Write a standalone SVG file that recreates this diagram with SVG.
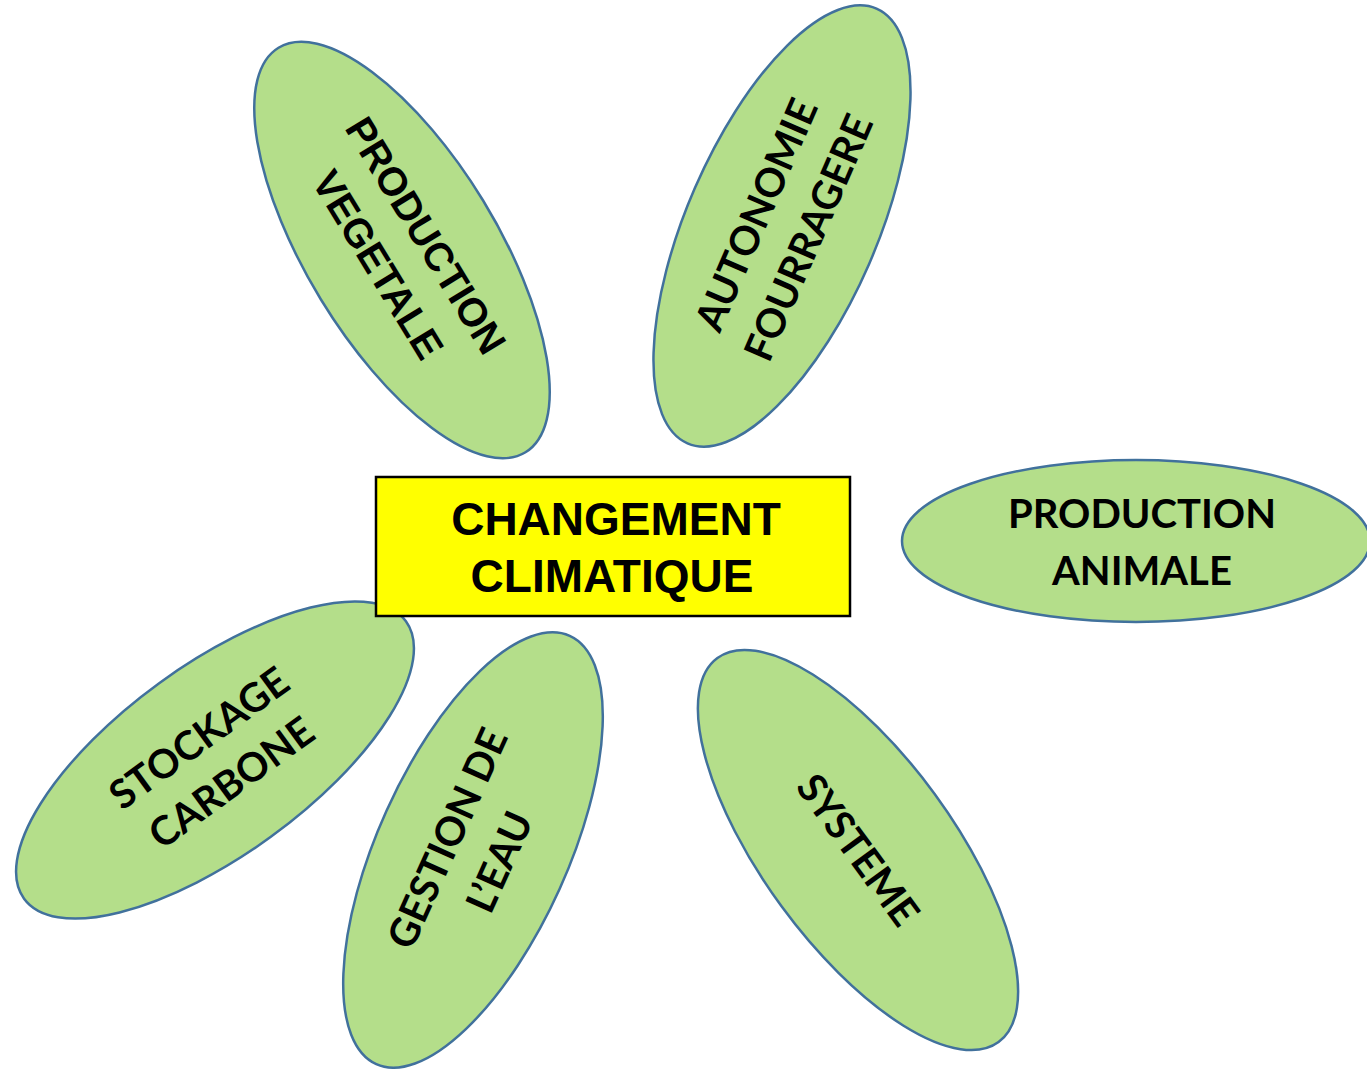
<svg xmlns="http://www.w3.org/2000/svg" width="1367" height="1069" viewBox="0 0 1367 1069">
<style>
.leaf{fill:#B4DE8A;stroke:#41719C;stroke-width:2.5}
.core{fill:#FFFF00;stroke:#000000;stroke-width:2.5}
.ta{font-family:"Liberation Sans",Arial,sans-serif;font-weight:bold;font-size:40px;fill:#000;text-anchor:middle}
.tc{font-family:Lato,"Open Sans",sans-serif;font-weight:bold;font-size:40px;fill:#000;text-anchor:middle}
.tm{font-family:"Liberation Sans",Arial,sans-serif;font-weight:bold;font-size:46px;fill:#000;text-anchor:middle}
</style>
<rect width="1367" height="1069" fill="#ffffff"/>
<g id="connectors"></g>
<g id="production-vegetale" transform="translate(402,250) rotate(58.6)">
<ellipse class="leaf" cx="0" cy="0" rx="237" ry="95"/>
<text class="ta" x="0" y="-14">PRODUCTION</text>
<text class="ta" x="0" y="42">VEGETALE</text>
</g>
<g id="autonomie-fourragere" transform="translate(782,226) rotate(-66.5)">
<ellipse class="leaf" cx="0" cy="0" rx="237" ry="95"/>
<text class="tc" x="0" y="-14">AUTONOMIE</text>
<text class="tc" x="0" y="43">FOURRAGERE</text>
</g>
<g id="production-animale">
<ellipse class="leaf" cx="1136" cy="541" rx="234" ry="81"/>
<text class="tc" x="1142" y="528">PRODUCTION</text>
<text class="tc" x="1142" y="585">ANIMALE</text>
</g>
<g id="stockage-carbone" transform="translate(215,760) rotate(-36)">
<ellipse class="leaf" cx="0" cy="0" rx="236" ry="95"/>
<text class="tc" x="0" y="-13">STOCKAGE</text>
<text class="tc" x="0" y="42">CARBONE</text>
</g>
<g id="gestion-eau" transform="translate(473,850) rotate(-65.7)">
<ellipse class="leaf" cx="0" cy="0" rx="235" ry="95"/>
<text class="tc" x="0" y="-14">GESTION DE</text>
<text class="tc" x="0" y="43">L’EAU</text>
</g>
<g id="systeme" transform="translate(858,850) rotate(53.8)">
<ellipse class="leaf" cx="0" cy="0" rx="238" ry="95"/>
<text class="tc" x="0" y="14">SYSTEME</text>
</g>
<g id="changement-climatique">
<rect class="core" x="376" y="477" width="474" height="139"/>
<text class="tm" x="616" y="535">CHANGEMENT</text>
<text class="tm" x="612" y="592">CLIMATIQUE</text>
</g>
</svg>
